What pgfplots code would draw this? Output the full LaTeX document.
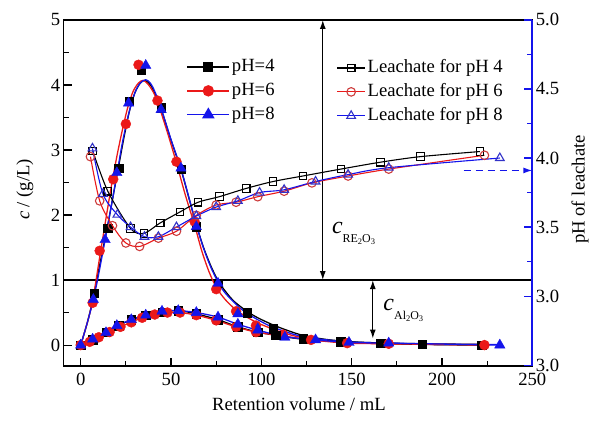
\documentclass[border=0pt]{standalone}
\usepackage{pgfplots}
\pgfplotsset{compat=1.18}
\usepackage{fontspec}
\setmainfont{Liberation Serif}
\usetikzlibrary{arrows.meta}
\definecolor{myred}{RGB}{235,25,25}
\definecolor{myblue}{RGB}{20,20,235}
\definecolor{ored}{RGB}{205,60,60}
\definecolor{oblue}{RGB}{50,50,200}
\newcommand{\fs}{\fontsize{18.7}{22}\selectfont}
\begin{document}
\begin{tikzpicture}[font=\fs]
\pgfplotsset{
  common/.style={
    width=470pt, height=347pt, scale only axis,
    xmin=-9.4, xmax=250,
    tick align=inside, major tick length=8pt, minor tick length=5pt,
    /pgf/number format/assume math mode=true,
    tick label style={font=\fs},
    label style={font=\fs},
    legend style={font=\fs, draw=none, fill=none, inner sep=0pt, row sep=3pt,
      nodes={inner sep=2pt, text height=13pt, text depth=4pt}},
    legend cell align=left,
  }
}
\begin{axis}[common,
  ymin=-0.32, ymax=5,
  xtick={0,50,...,250}, minor xtick={25,75,...,225},
  ytick={0,...,5}, minor ytick={0.5,1.5,...,4.5},
  xtick pos=bottom, ytick pos=left,
  xticklabel style={yshift=-4pt},
  every tick/.style={black, line width=1.1pt},
  axis line style={line width=1.5pt},
  clip=false,
  xlabel={Retention volume / mL},
  ylabel={\textit{c} / (g/L)},
  xlabel style={at={(axis description cs:0.502,-0.11)}, anchor=center},
  ylabel style={at={(axis description cs:-0.083,0.51)}, anchor=center, rotate=0},
  legend style={at={(axis description cs:0.262,0.895)}, anchor=north west},
  legend image code/.code={\draw[mark repeat=2,mark phase=2,#1] plot coordinates {(0pt,0pt) (21pt,0pt) (42pt,0pt)};},
]
\path (axis description cs:-0.136,-0.1614) rectangle (axis description cs:1.1234,1.0576);
\addlegendimage{black, line width=1.4pt, mark=square*, mark size=4.2pt}
\addlegendentry{pH=4}
\addlegendimage{myred, line width=1.4pt, mark=*, mark size=5pt}
\addlegendentry{pH=6}
\addlegendimage{myblue, line width=1.4pt, mark=triangle*, mark size=6pt}
\addlegendentry{pH=8}
% separator line c = 1
\draw[line width=1.3pt] (axis cs:-9.4,1) -- (axis cs:250,1);
% RE fitted curves
\addplot[forget plot, black, line width=1.3pt, smooth, tension=0.5] coordinates {
(0,0) (4,0.38) (7.5,0.8) (11,1.3) (15,1.85) (18,2.3) (21,2.75) (24,3.2) (27,3.6) (30,3.88) (33,4.03) (35.5,4.07) (38,4.02) (40,3.93) (44.5,3.63) (50,3.15) (55.5,2.7) (60,2.25) (64,1.85) (68,1.5) (72,1.22) (76,0.99) (80,0.83) (85,0.67) (92,0.52) (98,0.42) (106.5,0.31) (115,0.22) (123,0.15) (135,0.09) (150,0.05) (170,0.03) (190,0.02) (222,0.01)};
\addplot[forget plot, myred, line width=1.3pt, smooth, tension=0.5] coordinates {
(0,0) (3.5,0.33) (6.6,0.68) (10.5,1.35) (14,1.95) (17,2.45) (20,2.9) (23,3.3) (26,3.65) (29,3.9) (32,4.03) (34.5,4.07) (37,4.02) (40,3.9) (42.5,3.74) (48,3.27) (53,2.8) (58,2.3) (63,1.85) (67,1.45) (71,1.13) (75,0.89) (80,0.7) (86,0.54) (92,0.43) (98,0.34) (105,0.26) (112,0.19) (120,0.13) (130,0.09) (150,0.04) (170,0.02) (200,0.01) (223.5,0.01)};
\addplot[forget plot, myblue, line width=1.3pt, smooth, tension=0.5] coordinates {
(0,0) (3.5,0.33) (7,0.7) (10,1.1) (13.5,1.62) (17,2.15) (20,2.62) (23,3.1) (26.5,3.55) (30,3.88) (33,4.03) (36,4.08) (38.5,4.03) (41,3.9) (44.5,3.64) (50,3.16) (55.5,2.71) (60,2.26) (64,1.85) (68,1.49) (72,1.2) (76,0.97) (80,0.8) (87,0.6) (92,0.49) (98,0.39) (105,0.29) (113,0.21) (120,0.15) (130,0.1) (148.5,0.05) (170.5,0.03) (200,0.01) (232,0.01)};
% Al curves
\addplot[forget plot, black, line width=1.3pt, smooth] coordinates {
(0,0) (6.6,0.08) (14,0.2) (21,0.3) (28,0.39) (36,0.46) (45,0.51) (54,0.53) (64,0.48) (76,0.39) (87,0.28) (98,0.2) (108,0.15) (123,0.09) (144,0.05) (166,0.03) (189,0.01) (222,0)};
\addplot[forget plot, myred, line width=1.3pt, smooth] coordinates {
(0,0) (5,0.05) (10,0.12) (16,0.2) (22,0.28) (28,0.35) (34,0.42) (41,0.47) (48,0.5) (55,0.5) (64,0.46) (75,0.38) (86,0.28) (97,0.2) (112,0.14) (127.5,0.08) (147.5,0.03) (170.5,0.02) (223.5,0)};
\addplot[forget plot, myblue, line width=1.3pt, smooth] coordinates {
(0,0) (6.6,0.09) (14,0.19) (20,0.3) (28,0.39) (36,0.46) (45,0.52) (54,0.53) (64,0.5) (76,0.43) (87,0.32) (98,0.23) (113,0.13) (130,0.08) (148.5,0.04) (170.5,0.03) (232,0)};
% markers RE
\addplot[forget plot, only marks, mark=square*, mark size=4.2pt, black] coordinates {
(0,0) (7.5,0.8) (15,1.8) (21,2.72) (27,3.75) (33.5,4.23) (44.5,3.65) (55.5,2.7) (64,1.82) (76,0.95) (92,0.5) (106.5,0.25) (123,0.1) (144,0.05) (166,0.03) (189,0.01) (222,0)};
\addplot[forget plot, only marks, mark=*, mark size=5pt, myred] coordinates {
(0,0) (6.6,0.65) (10.5,1.45) (18,2.55) (25,3.4) (32,4.31) (42.5,3.76) (53,2.82) (63,1.9) (75,0.86) (86,0.52) (97,0.3) (112,0.16) (127.5,0.08) (147.5,0.03) (170.5,0.02) (223.5,0)};
\addplot[forget plot, only marks, mark=triangle*, mark size=6pt, myblue] coordinates {
(0,0) (7,0.7) (13.5,1.62) (20,2.65) (26.5,3.72) (36,4.3) (44.5,3.62) (55.5,2.72) (64,1.82) (76,0.95) (87,0.48) (98,0.25) (113,0.12) (130,0.08) (148.5,0.04) (170.5,0.03) (232,0)};
% markers Al
\addplot[forget plot, only marks, mark=square*, mark size=4.2pt, black] coordinates {
(6.6,0.08) (14,0.2) (21,0.3) (28,0.39) (36,0.46) (45,0.51) (54,0.53) (64,0.48) (76,0.39) (87,0.28) (98,0.2) (108,0.15)};
\addplot[forget plot, only marks, mark=*, mark size=5pt, myred] coordinates {
(5,0.05) (10,0.12) (16,0.2) (22,0.28) (28,0.35) (34,0.42) (41,0.47) (48,0.5) (55,0.5) (64,0.46) (75,0.38) (86,0.28) (97,0.2)};
\addplot[forget plot, only marks, mark=triangle*, mark size=6pt, myblue] coordinates {
(6.6,0.09) (14,0.19) (20,0.3) (28,0.39) (36,0.46) (45,0.52) (54,0.53) (64,0.5) (76,0.43) (87,0.32) (98,0.23)};
% annotations
\draw[{Latex[length=9pt,width=6pt]}-{Latex[length=9pt,width=6pt]}, line width=1.3pt] (axis cs:134,1) -- (axis cs:134,5);
\draw[{Latex[length=9pt,width=6pt]}-{Latex[length=9pt,width=6pt]}, line width=1.3pt] (axis cs:161.7,1) -- (axis cs:161.7,0.1);
\node[anchor=west, inner sep=0pt] at (axis cs:139,1.72) {{\fontsize{24}{24}\selectfont\itshape c}\raisebox{-1.1ex}{\fontsize{12}{12}\selectfont RE\raisebox{-0.35ex}{\fontsize{8.5}{8.5}\selectfont 2}O\raisebox{-0.35ex}{\fontsize{8.5}{8.5}\selectfont 3}}};
\node[anchor=west, inner sep=0pt] at (axis cs:167.5,0.53) {{\fontsize{24}{24}\selectfont\itshape c}\raisebox{-1.1ex}{\fontsize{12}{12}\selectfont Al\raisebox{-0.35ex}{\fontsize{8.5}{8.5}\selectfont 2}O\raisebox{-0.35ex}{\fontsize{8.5}{8.5}\selectfont 3}}};
\end{axis}
\begin{axis}[common,
  ymin=2.495, ymax=5,
  axis x line=none, axis y line*=right,
  ytick={2.5,3,3.5,4,4.5,5}, yticklabels={3.0,3.0,3.5,4.0,4.5,5.0},
  minor ytick={3.25,3.75,4.25,4.75},
  y axis line style={myblue, line width=2pt, -},
  every tick/.style={myblue, line width=1.2pt},
  ylabel={pH of leachate},
  ylabel style={at={(axis description cs:1.102,0.51)}, anchor=center},
  legend style={at={(axis description cs:0.582,0.892)}, anchor=north west},
  legend image code/.code={\draw[mark repeat=2,mark phase=2,#1] plot coordinates {(0pt,0pt) (14pt,0pt) (28pt,0pt)};},
]
\addlegendimage{black, line width=1.1pt, mark=square, mark size=3.8pt, mark options={fill=white}}
\addlegendentry{Leachate for pH 4}
\addlegendimage{myred, line width=1.1pt, mark=o, mark size=4.3pt, mark options={draw=ored, fill=white}}
\addlegendentry{Leachate for pH 6}
\addlegendimage{myblue, line width=1.1pt, mark=triangle, mark size=5pt, mark options={draw=oblue, fill=white}}
\addlegendentry{Leachate for pH 8}
\addplot[forget plot, black, line width=1.1pt, smooth, mark=square, mark size=3.8pt, mark options={fill=white, solid}] coordinates {
(6.7,4.05) (15,3.76) (27.6,3.49) (35,3.455) (44,3.53) (55,3.61) (65,3.68) (76.7,3.72) (91.6,3.78) (106.5,3.83) (123,3.87) (144,3.92) (166,3.97) (188,4.01) (221,4.047)};
\addplot[forget plot, myred, line width=1.1pt, smooth, mark=o, mark size=4.3pt, mark options={draw=ored, fill=white, solid}] coordinates {
(5.4,4.01) (10.5,3.69) (17.6,3.51) (25,3.385) (32.6,3.36) (43,3.42) (53,3.47) (64,3.585) (75,3.66) (86,3.68) (98,3.72) (112.6,3.76) (128,3.82) (148,3.87) (170.5,3.92) (223.5,4.02)};
\addplot[forget plot, myblue, line width=1.1pt, smooth, mark=triangle, mark size=5pt, mark options={draw=oblue, fill=white, solid}] coordinates {
(6.5,4.07) (12.3,3.74) (20.3,3.59) (27.6,3.5) (35.3,3.43) (43,3.43) (53,3.5) (64,3.58) (75,3.645) (87,3.69) (99,3.75) (112.6,3.77) (130,3.83) (148,3.88) (170.5,3.93) (232,4.0)};
\draw[myblue, dashed, dash pattern=on 7pt off 5pt, line width=1.3pt, -{Latex[length=9pt,width=6pt]}] (axis cs:212,3.91) -- (axis cs:250,3.91);
\end{axis}
\end{tikzpicture}
\end{document}
